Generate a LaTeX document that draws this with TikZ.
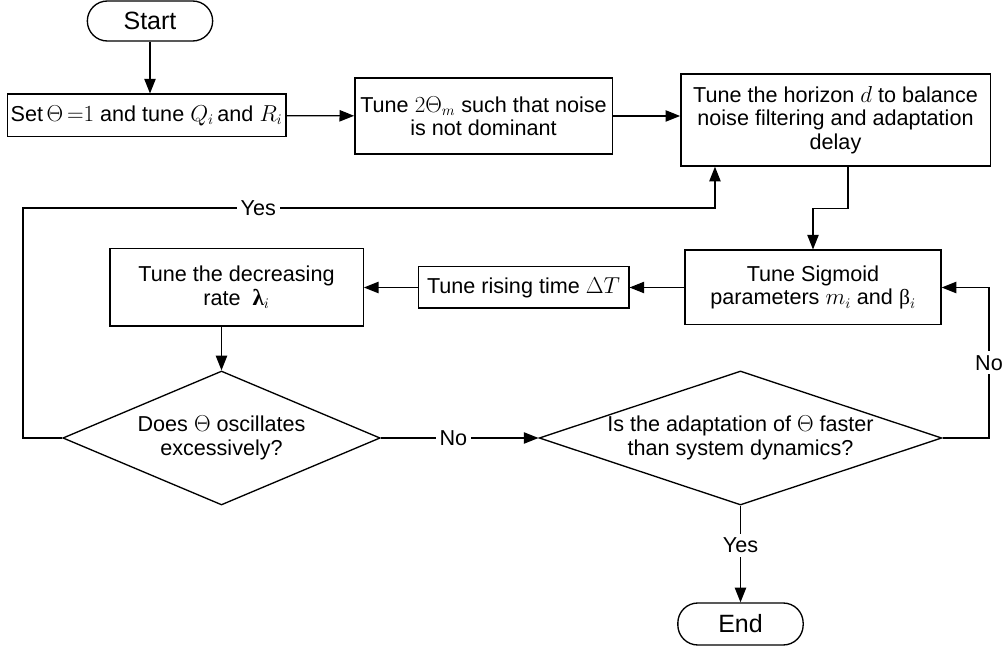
\documentclass[tikz,border=0pt]{standalone}
\usepackage{fontspec}
\setmainfont{Liberation Sans}
\newfontfamily\symb{Liberation Serif}
\usepackage{tikz}
\usetikzlibrary{arrows.meta,shapes.geometric}
\tikzset{
  flownode/.style = {align=center, inner sep=0pt, text centered, font=\fontsize{16.2}{17.5}\selectfont},
  ProcBox/.style = {flownode, rectangle, draw=black, line width=1pt},
  TermNode/.style = {flownode, rectangle, rounded corners=15pt, draw=black, line width=1pt, font=\fontsize{18.75}{20}\selectfont},
  Decision/.style = {flownode, diamond, aspect=2.4, draw=black, line width=1pt},
  EdgeLabel/.style = {flownode, fill=white, inner sep=3pt}
}

\begin{document}
\begin{tikzpicture}[x=0.75pt,y=-0.75pt,>={Triangle[length=11pt,width=8.5pt]},line width=1pt]
    \useasboundingbox (0,0) rectangle (1008,649);
    \node [TermNode, minimum width=94pt, minimum height=30pt] (start) at (150,21) {Start};
    \node [ProcBox, minimum width=209pt, minimum height=32pt] (set) at (146.5,115.5)
        {Set\,$\Theta\,{=}1$ and tune $Q_i$\,and $R_i$};
    \node [ProcBox, minimum width=193pt, minimum height=57pt] (tune2) at (483.5,116)
        {Tune $2\Theta_m$ such that noise\\is not dominant};
    \node [ProcBox, minimum width=232pt, minimum height=69pt] (horizon) at (835.5,120)
        {Tune the horizon $d$ to balance\\noise filtering and adaptation\\delay};
    \node [ProcBox, minimum width=192pt, minimum height=56pt] (sigmoid) at (813,287.5)
        {Tune Sigmoid\\parameters $m_i$ and {\symb β}$_i$};
    \node [ProcBox, minimum width=158pt, minimum height=31pt] (rising) at (523.5,287.5)
        {Tune rising time $\Delta T$};
    \node [ProcBox, minimum width=190pt, minimum height=58pt] (decrease) at (236.5,287.5)
        {Tune the decreasing\\rate \ {\symb\bfseries\LARGE λ}$_i$};
    \node [Decision, minimum width=238pt, minimum height=100.5pt] (osc) at (221.5,438)
        {Does $\Theta$ oscillates\\excessively?};
    \node [Decision, aspect=3, minimum width=302pt, minimum height=100.5pt] (adapt) at (740.5,438)
        {Is the adaptation of $\Theta$ faster\\than system dynamics?};
    \node [TermNode, minimum width=94pt, minimum height=31.5pt] (stop) at (740.5,624) {End};

    \coordinate (yesturn) at (23,208);
    \coordinate (noturn) at (989,438);

    \draw [->] (start) -- (start |- set.north);
    \draw [->] (set) -- (tune2);
    \draw [->] (tune2.east) -- (tune2.east -| horizon.west);
    \draw [->] ([xshift=9.4pt]horizon.south) -- ++(0,42) -| (sigmoid.north);
    \draw [->] (sigmoid) -- (rising);
    \draw [->] (rising) -- (decrease);
    \draw [->] (osc.north |- decrease.south) -- (osc.north);
    \draw [->] (osc.west) -| (yesturn) -| node [EdgeLabel, pos=0.17] {Yes} ([xshift=-90.4pt]horizon.south);
    \draw [->] (osc) -- node [EdgeLabel, pos=0.46] {No} (adapt);
    \draw [->] (adapt.east) -- (noturn) |- node [EdgeLabel, pos=0.25] {No} (sigmoid.east);
    \draw [->] (adapt) -- node [EdgeLabel, pos=0.41] {Yes} (stop);
\end{tikzpicture}
\end{document}
